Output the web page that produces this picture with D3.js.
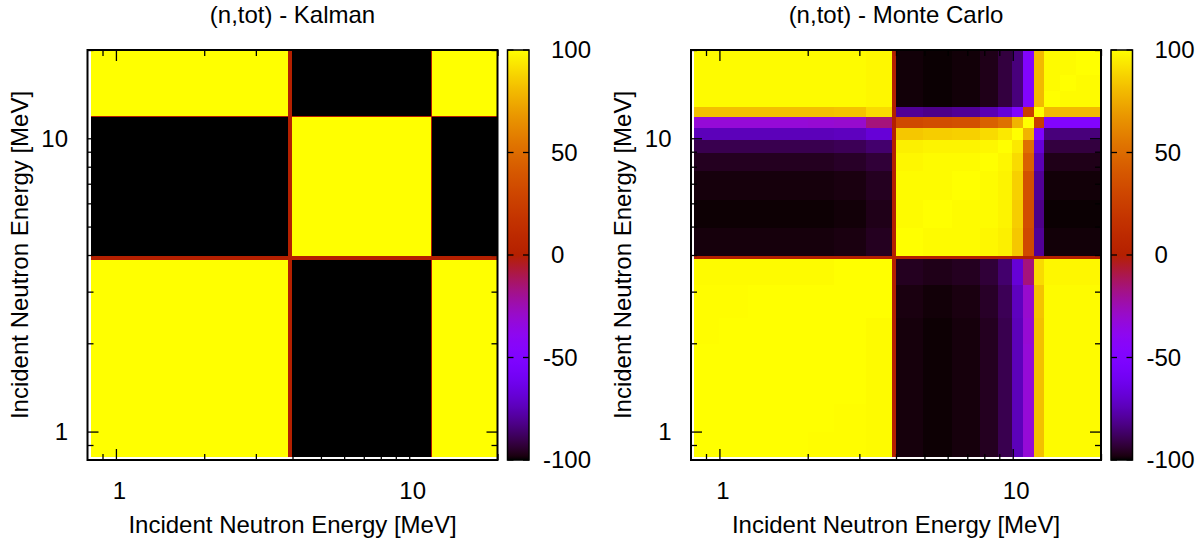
<!DOCTYPE html>
<html>
<head>
<meta charset="utf-8">
<script src="https://cdn.jsdelivr.net/npm/d3@7"></script>
<style>
  html, body { margin: 0; padding: 0; background: #fff; }
  svg { display: block; }
  text { font-family: "Liberation Sans", Arial, Helvetica, sans-serif; fill: #000; }
</style>
</head>
<body>
<svg id="chart" width="1202" height="541"></svg>
<script>
// ---------------- data ----------------
const panelTitles = ["(n,tot) - Kalman", "(n,tot) - Monte Carlo"];
const axisLabel = "Incident Neutron Energy [MeV]";
const axisDomain = [0.8, 20];
const majorTicks = [1, 10];
const minorTicks = [0.9, 2, 3, 4, 5, 6, 7, 8, 9, 20];
const colorTicks = [-100, -50, 0, 50, 100];

// energy bin edges (MeV) of the Kalman matrix
const kalmanEdges = [0.82, 3.86, 3.99, 11.85, 11.92, 20];
// correlation (%) : row = y bin (low -> high energy), column = x bin
const kalmanCorr = [
  [ 100, 0, -100, 0,  100],
  [   0, 0,    0, 0,    0],
  [-100, 0,  100, 0, -100],
  [   0, 0,    0, 0,    0],
  [ 100, 0, -100, 0,  100]
];

// energy bin edges (MeV) of the Monte Carlo matrix
const mcEdges = [0.82, 1.0, 1.25, 1.55, 2.0, 2.45, 3.16, 3.88, 3.99, 4.96, 6.2, 7.74, 8.93, 9.92, 10.87, 11.85, 12.81, 14.5, 16.5, 20];
const mcCorr = [
  [ 100, 100, 100, 100, 99.5, 99.5, 99, 0, -98.5, -99.5, -98.5, -96, -90, -74, -32, 82, 99, 99, 99],
  [ 100, 100, 100, 100, 100, 99.5, 99, 0, -98.5, -99.5, -98.5, -96, -90, -74, -32, 82, 99, 99, 99],
  [ 100, 100, 100, 100, 100, 100, 99, 0, -98.5, -99.5, -98.5, -96, -90, -74, -32, 82, 99, 99, 99],
  [ 100, 100, 100, 100, 100, 100, 99, 0, -98.5, -99.5, -98.5, -96, -90, -74, -32, 82, 99, 99, 99],
  [ 99.5, 100, 100, 100, 100, 100, 99, 0, -98.5, -99.5, -98.5, -96, -90, -74, -31, 82, 99, 99, 99],
  [ 99.5, 99.5, 100, 100, 100, 100, 100, 0, -98, -99, -98, -95, -89, -73, -30, 83, 99, 99, 99],
  [ 99, 99, 99, 99, 99, 100, 100, 0, -96, -97, -96, -93, -86, -68, -16, 90, 98, 98, 98],
  [ 0, 0, 0, 0, 0, 0, 0, 0, 0, 0, 0, 0, 0, 0, 0, 0, 0, 0, 0],
  [ -98.5, -98.5, -98.5, -98.5, -98.5, -98, -96, 0, 100, 99, 99, 98, 96, 84, 32, -80, -99, -99, -99],
  [ -99.5, -99.5, -99.5, -99.5, -99.5, -99, -97, 0, 99, 100, 99, 99, 97, 86, 34, -82, -99.6, -99.6, -99.6],
  [ -98.5, -98.5, -98.5, -98.5, -98.5, -98, -96, 0, 99, 99, 100, 99, 97, 87, 36, -80, -99, -99, -99],
  [ -96, -96, -96, -96, -96, -95, -93, 0, 98, 99, 99, 100, 98, 90, 45, -75, -97, -97, -97],
  [ -90, -90, -90, -90, -90, -89, -86, 0, 96, 97, 97, 98, 100, 94, 52, -68, -92, -92, -92],
  [ -74, -74, -74, -74, -74, -73, -68, 0, 84, 86, 87, 90, 94, 100, 78, -50, -84, -84, -84],
  [ -32, -32, -32, -32, -31, -30, -16, 0, 32, 34, 36, 45, 52, 78, 100, 25, -48, -48, -48],
  [ 82, 82, 82, 82, 82, 83, 90, 0, -80, -82, -80, -75, -68, -50, 25, 100, 80, 80, 80],
  [ 99, 99, 99, 99, 99, 99, 98, 0, -99, -99.6, -99, -97, -92, -84, -48, 80, 100, 99, 99],
  [ 99, 99, 99, 99, 99, 99, 98, 0, -99, -99.6, -99, -97, -92, -84, -48, 80, 99, 100, 99],
  [ 99, 99, 99, 99, 99, 99, 98, 0, -99, -99.6, -99, -97, -92, -84, -48, 80, 99, 99, 100]
];

// ---------------- drawing ----------------
const svg = d3.select("#chart");
const FONT = 24;        // tick labels
const LFONT = 24;       // titles and axis labels
const plotSize = 410;
const plotTop = 50;
const panels = [
  { left: 87.5, title: panelTitles[0], edges: kalmanEdges, corr: kalmanCorr, ylabX: 19.5 },
  { left: 691,  title: panelTitles[1], edges: mcEdges,     corr: mcCorr,     ylabX: 622.5 }
];

// gnuplot default palette (rgbformulae 7,5,15)
function palette(t) {
  t = Math.max(0, Math.min(1, t));
  const r = Math.sqrt(t), g = t * t * t, b = Math.max(0, Math.sin(2 * Math.PI * t));
  return d3.rgb(255 * r, 255 * g, 255 * b).formatHex();
}
const color = d3.scaleSequential(palette).domain([-100, 100]);

const defs = svg.append("defs");
const grad = defs.append("linearGradient").attr("id", "cbgrad")
  .attr("x1", 0).attr("y1", 1).attr("x2", 0).attr("y2", 0);
d3.range(0, 101).forEach(i => {
  grad.append("stop").attr("offset", (i / 100)).attr("stop-color", palette(i / 100));
});

// width of a hyphen for hanging minus signs on the colour-box labels
const probe = svg.append("text").style("font-size", FONT + "px").text("-");
const hyphenW = probe.node().getComputedTextLength();
probe.remove();

panels.forEach((p, pi) => {
  const g = svg.append("g");
  const x = d3.scaleLog().domain(axisDomain).range([p.left, p.left + plotSize]);
  const y = d3.scaleLog().domain(axisDomain).range([plotTop + plotSize, plotTop]);

  // cells
  const cells = [];
  p.corr.forEach((row, i) => row.forEach((v, j) => cells.push({ i, j, v })));
  g.append("g").selectAll("rect").data(cells).join("rect")
    .attr("x", d => x(p.edges[d.j]))
    .attr("y", d => y(p.edges[d.i + 1]))
    .attr("width", d => x(p.edges[d.j + 1]) - x(p.edges[d.j]) + 0.4)
    .attr("height", d => y(p.edges[d.i]) - y(p.edges[d.i + 1]) + 0.4)
    .attr("fill", d => color(d.v))
    .attr("shape-rendering", "crispEdges");

  // ticks (inward, mirrored)
  const bottom = plotTop + plotSize;
  const axB = d3.axisBottom(x).tickValues(majorTicks).tickSize(-11).tickFormat(d3.format("d"));
  const axBm = d3.axisBottom(x).tickValues(minorTicks).tickSize(-6).tickFormat("");
  const axT = d3.axisTop(x).tickValues(majorTicks).tickSize(-11).tickFormat("");
  const axTm = d3.axisTop(x).tickValues(minorTicks).tickSize(-6).tickFormat("");
  const axL = d3.axisLeft(y).tickValues(majorTicks).tickSize(-11).tickFormat(d3.format("d"));
  const axLm = d3.axisLeft(y).tickValues(minorTicks).tickSize(-6).tickFormat("");
  const axR = d3.axisRight(y).tickValues(majorTicks).tickSize(-11).tickFormat("");
  const axRm = d3.axisRight(y).tickValues(minorTicks).tickSize(-6).tickFormat("");

  const gb = g.append("g").attr("transform", `translate(0,${bottom})`).call(axB);
  g.append("g").attr("transform", `translate(0,${bottom})`).call(axBm);
  g.append("g").attr("transform", `translate(0,${plotTop})`).call(axT);
  g.append("g").attr("transform", `translate(0,${plotTop})`).call(axTm);
  const gl = g.append("g").attr("transform", `translate(${p.left},0)`).call(axL);
  g.append("g").attr("transform", `translate(${p.left},0)`).call(axLm);
  g.append("g").attr("transform", `translate(${p.left + plotSize},0)`).call(axR);
  g.append("g").attr("transform", `translate(${p.left + plotSize},0)`).call(axRm);

  g.selectAll(".domain").remove();
  g.selectAll(".tick line").attr("stroke", "#000").attr("stroke-width", 1.3);
  gb.selectAll("text").attr("y", 39.3).attr("dy", null).attr("x", 3)
    .style("font-size", FONT + "px").style("font-family", '"Liberation Sans", Arial, sans-serif').attr("fill", "#000");
  gl.selectAll("text").attr("x", -19.5).attr("dy", "0.35em")
    .style("font-size", FONT + "px").style("font-family", '"Liberation Sans", Arial, sans-serif').attr("fill", "#000");

  // frame
  g.append("rect").attr("x", p.left).attr("y", plotTop).attr("width", plotSize).attr("height", plotSize)
    .attr("fill", "none").attr("stroke", "#000").attr("stroke-width", 2);

  // title
  g.append("text").attr("x", p.left + plotSize / 2).attr("y", 23)
    .attr("text-anchor", "middle").style("font-size", LFONT + "px").text(p.title);

  // axis labels
  g.append("text").attr("x", p.left + plotSize / 2).attr("y", 533)
    .attr("text-anchor", "middle").style("font-size", LFONT + "px").text(axisLabel);
  g.append("text")
    .attr("transform", `translate(${p.ylabX},${plotTop + plotSize / 2}) rotate(-90)`)
    .attr("text-anchor", "middle").attr("dy", "0.35em").style("font-size", LFONT + "px").text(axisLabel);

  // color box
  const cbx = p.left + plotSize + 10, cbw = 21.5;
  const cy = d3.scaleLinear().domain([-100, 100]).range([bottom, plotTop]);
  g.append("rect").attr("x", cbx).attr("y", plotTop).attr("width", cbw).attr("height", plotSize)
    .attr("fill", "url(#cbgrad)");
  colorTicks.forEach(v => {
    g.append("line").attr("x1", cbx).attr("x2", cbx + 6).attr("y1", cy(v)).attr("y2", cy(v))
      .attr("stroke", "#000").attr("stroke-width", 1.3);
    g.append("line").attr("x1", cbx + cbw).attr("x2", cbx + cbw - 6).attr("y1", cy(v)).attr("y2", cy(v))
      .attr("stroke", "#000").attr("stroke-width", 1.3);
    const lx = cbx + cbw + 22 - (v < 0 ? hyphenW : 0);
    g.append("text").attr("x", lx).attr("y", cy(v)).attr("dy", "0.35em")
      .style("font-size", FONT + "px").text(String(v));
  });
  g.append("rect").attr("x", cbx).attr("y", plotTop).attr("width", cbw).attr("height", plotSize)
    .attr("fill", "none").attr("stroke", "#000").attr("stroke-width", 1.5);
});
</script>
</body>
</html>
